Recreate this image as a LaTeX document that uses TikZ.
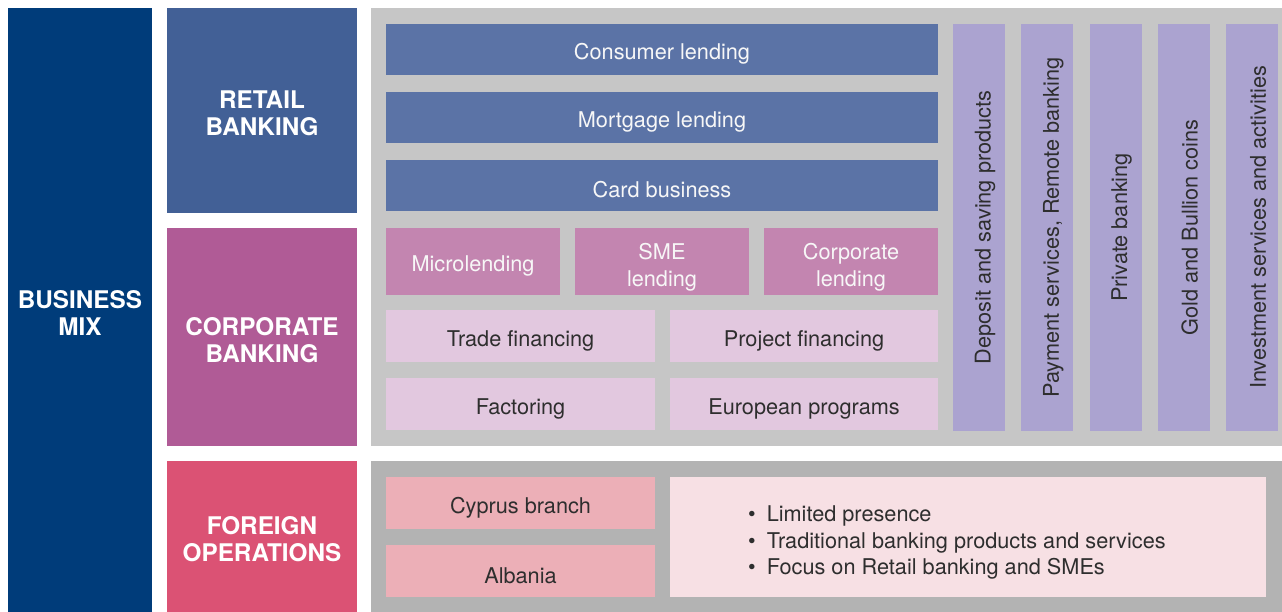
\documentclass[tikz,border=0pt]{standalone}
\usepackage{fontspec}
\setmainfont{TeX Gyre Heros}
\usetikzlibrary{positioning}

\definecolor{mixblue}{HTML}{003C7A}
\definecolor{retailblue}{HTML}{426096}
\definecolor{corpmagenta}{HTML}{B05B96}
\definecolor{foreignred}{HTML}{DB5274}
\definecolor{panelgray}{HTML}{C6C6C6}
\definecolor{panelgraydark}{HTML}{B3B3B3}
\definecolor{rowblue}{HTML}{5B73A6}
\definecolor{lendpink}{HTML}{C385B0}
\definecolor{finlilac}{HTML}{E2C8DF}
\definecolor{collilac}{HTML}{ABA3D0}
\definecolor{branchpink}{HTML}{ECAFB7}
\definecolor{notepink}{HTML}{F7E0E4}
\definecolor{darktext}{HTML}{2E2E2E}

\begin{document}
\begin{tikzpicture}[x=1pt, y=-1pt,
  cell/.style 2 args={anchor=north west, inner sep=0pt, outer sep=0pt,
    minimum width=#1pt, minimum height=#2pt, align=center},
  lift/.style={execute at begin node={\rule{0pt}{#1}}},
  head/.style={text=white, font=\fontsize{24.3}{27}\selectfont\bfseries, lift=50.5pt},
  item/.style={font=\fontsize{21.7}{26.5}\selectfont},
  lighttext/.style={item, text=white!94!gray, lift=24.5pt},
  darkitem/.style={item, text=darktext, lift=25.5pt}]
\useasboundingbox (0,0) rectangle (1282,612);

% left headings
\node[cell={144}{604}, head, fill=mixblue] (mix) at (8,8) {BUSINESS\\MIX};
\node[cell={190}{205}, head, fill=retailblue] (retail) at (167,8) {RETAIL\\BANKING};
\node[cell={190}{218}, head, fill=corpmagenta] (corp) at (167,228) {CORPORATE\\BANKING};
\node[cell={190}{151}, head, fill=foreignred] (foreign) at (167,461) {FOREIGN\\OPERATIONS};

% background panels
\node[cell={911}{438}, fill=panelgray] (toppanel) at (371,8) {};
\node[cell={911}{151}, fill=panelgraydark] (lowpanel) at (371,461) {};

% retail products
\foreach \txt [count=\i from 0] in {Consumer lending, Mortgage lending, Card business}
  \node[cell={552}{51}, lighttext, fill=rowblue] (row\i) at (386,{24+68*\i}) {\txt};

% lending products
\node[cell={174}{67}, lighttext, fill=lendpink] (micro) at (386,228) {Microlending};
\node[cell={174}{67}, lighttext, lift=54pt, fill=lendpink] (sme) at (575,228) {SME\\lending};
\node[cell={174}{67}, lighttext, lift=54pt, fill=lendpink] (corplend) at (764,228) {Corporate\\lending};

% financing
\node[cell={269}{52}, darkitem, fill=finlilac] (trade) at (386,310) {Trade financing};
\node[cell={268}{52}, darkitem, fill=finlilac] (project) at (670,310) {Project financing};
\node[cell={269}{52}, darkitem, fill=finlilac] (factoring) at (386,378) {Factoring};
\node[cell={268}{52}, darkitem, fill=finlilac] (europe) at (670,378) {European programs};

% common services
\foreach \txt [count=\i from 0] in {Deposit and saving products,
    {Payment services, Remote banking}, Private banking,
    Gold and Bullion coins, Investment services and activities}
  \node[inner sep=0pt, minimum width=407pt, minimum height=52pt, rotate=90,
    darkitem, lift=28pt, fill=collilac] (col\i) at ({979+68.25*\i},227.5) {\txt};

% foreign operations
\node[cell={269}{52}, darkitem, fill=branchpink] (cyprus) at (386,477) {Cyprus branch};
\node[cell={269}{52}, darkitem, fill=branchpink] (albania) at (386,545) {Albania};
\node[cell={596}{120}, fill=notepink] (notes) at (670,477) {};
\node[anchor=west, inner sep=0pt, align=left, item, text=darktext] (notetext) at (748,542.5)
  {\textbullet\hspace{11pt}Limited presence\\
   \textbullet\hspace{11pt}Traditional banking products and services\\
   \textbullet\hspace{11pt}Focus on Retail banking and SMEs};
\end{tikzpicture}
\end{document}
